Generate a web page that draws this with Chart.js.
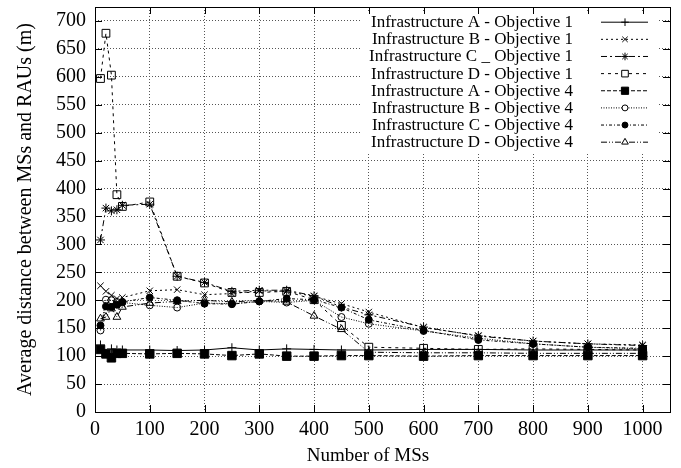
<!DOCTYPE html>
<html>
<head>
<meta charset="utf-8">
<script src="https://cdn.jsdelivr.net/npm/chart.js@4/dist/chart.umd.min.js"></script>
<style>
  html, body { margin: 0; padding: 0; background: #fff; }
</style>
</head>
<body>
<canvas id="chart1" width="681" height="468"></canvas>
<script>
// number of MSs (x values)
const numMSs = [10, 20, 30, 40, 50, 100, 150, 200, 250, 300, 350, 400, 450, 500, 600, 700, 800, 900, 1000];

// average distance (m)
const infraA_obj1 = [120, 105, 113, 111, 111, 111, 110, 111, 115, 111, 113, 112, 111, 111, 112, 112, 111, 111, 111];
const infraB_obj1 = [226, 216, 209, 203, 205, 217, 219, 210, 212, 217, 216, 207, 194, 179, 151, 137, 127, 122, 120];
const infraC_obj1 = [308, 365, 360, 362, 370, 372, 243, 232, 216, 218, 218, 208, 188, 174, 152, 136, 127, 122, 119];
const infraD_obj1 = [597, 678, 603, 389, 368, 376, 243, 231, 214, 214, 216, 201, 155, 116, 114, 112, 113, 112, 111];
const infraA_obj4 = [112, 104, 97, 105, 105, 104, 105, 104, 101, 104, 100, 100, 101, 101, 100, 101, 101, 101, 101];
const infraB_obj4 = [146, 201, 200, 197, 196, 191, 187, 195, 194, 198, 196, 200, 170, 158, 145, 132, 122, 116, 113];
const infraC_obj4 = [155, 189, 188, 192, 197, 205, 200, 194, 193, 198, 203, 201, 187, 165, 146, 129, 122, 116, 114];
const infraD_obj4 = [167, 170, 185, 170, 188, 195, 198, 200, 197, 200, 197, 172, 148, 107, 106, 106, 105, 105, 105];

const xTicks = [0, 100, 200, 300, 400, 500, 600, 700, 800, 900, 1000];
const yTicks = [0, 50, 100, 150, 200, 250, 300, 350, 400, 450, 500, 550, 600, 650, 700];

const labels = [
  "Infrastructure A - Objective 1",
  "Infrastructure B - Objective 1",
  "Infrastructure C _ Objective 1",
  "Infrastructure D - Objective 1",
  "Infrastructure A - Objective 4",
  "Infrastructure B - Objective 4",
  "Infrastructure C - Objective 4",
  "Infrastructure D - Objective 4"
];

const FONT = "'Liberation Serif', 'Times New Roman', serif";
const none = "rgba(0,0,0,0)";

function serie(label, ys, dash, style, radius, fill) {
  return {
    label: label,
    data: ys.map((y, i) => ({ x: numMSs[i], y: y })),
    borderColor: "#000",
    borderWidth: 1,
    borderDash: dash,
    pointStyle: style,
    pointRadius: radius,
    pointBorderColor: "#000",
    pointBorderWidth: 1,
    pointBackgroundColor: fill,
    tension: 0,
    fill: false
  };
}

const datasets = [
  serie(labels[0], infraA_obj1, [], "cross", 4.5, none),
  serie(labels[1], infraB_obj1, [2, 3], "crossRot", 4.5, none),
  serie(labels[2], infraC_obj1, [6, 3, 2, 3], "star", 4.5, none),
  serie(labels[3], infraD_obj1, [3, 4], "rect", 5.5, none),
  serie(labels[4], infraA_obj4, [4, 2], "rect", 6, "#000"),
  serie(labels[5], infraB_obj4, [1, 1.5], "circle", 3.5, none),
  serie(labels[6], infraC_obj4, [3, 2, 1, 2], "circle", 3.5, "#000"),
  serie(labels[7], infraD_obj4, [6, 2, 1, 2, 1, 2], "triangle", 4.5, none)
];

// gnuplot style frame, inside ticks, key box and x label
const gnuplotFrame = {
  id: "gnuplotFrame",
  afterDraw(chart) {
    const ctx = chart.ctx;
    const a = chart.chartArea;
    const xs = chart.scales.x, ys = chart.scales.y;

    // key
    ctx.save();
    ctx.fillStyle = "#fff";
    ctx.fillRect(362, 12, 296, 140);
    ctx.font = "17px " + FONT;
    ctx.fillStyle = "#000";
    ctx.textAlign = "right";
    ctx.textBaseline = "middle";
    chart.data.datasets.forEach((ds, i) => {
      const y = 21.7 + i * 17.14;
      ctx.fillText(ds.label, 573, y + 1);
      ctx.strokeStyle = "#000";
      ctx.lineWidth = 1;
      ctx.setLineDash(ds.borderDash);
      ctx.beginPath();
      ctx.moveTo(601, y + 0.5);
      ctx.lineTo(648, y + 0.5);
      ctx.stroke();
      ctx.setLineDash([]);
      ctx.fillStyle = ds.pointBackgroundColor === none ? "#fff" : "#000";
      if (ds.pointStyle === "cross" || ds.pointStyle === "crossRot" || ds.pointStyle === "star") {
        ctx.fillStyle = none;
      }
      Chart.helpers.drawPoint(ctx, {
        pointStyle: ds.pointStyle,
        radius: ds.pointRadius * 0.85,
        rotation: 0,
        borderWidth: 1
      }, 625, y + 0.5);
      ctx.fillStyle = "#000";
    });

    // x label (gnuplot centres it a bit left of the plot middle)
    ctx.font = "19px " + FONT;
    ctx.textAlign = "center";
    ctx.textBaseline = "alphabetic";
    ctx.fillStyle = "#000";
    ctx.fillText("Number of MSs", 368, 461);

    // frame
    ctx.strokeStyle = "#000";
    ctx.lineWidth = 1;
    ctx.strokeRect(Math.round(a.left) + 0.5, Math.round(a.top) + 0.5,
      Math.round(a.right - a.left), Math.round(a.bottom - a.top));

    // mirrored inside ticks
    const tl = 7;
    ctx.beginPath();
    xTicks.forEach(v => {
      const px = Math.round(xs.getPixelForValue(v)) + 0.5;
      ctx.moveTo(px, a.bottom); ctx.lineTo(px, a.bottom - tl);
      ctx.moveTo(px, a.top); ctx.lineTo(px, a.top + tl);
    });
    yTicks.forEach(v => {
      const py = Math.round(ys.getPixelForValue(v)) + 0.5;
      ctx.moveTo(a.left, py); ctx.lineTo(a.left + tl, py);
      ctx.moveTo(a.right, py); ctx.lineTo(a.right - tl, py);
    });
    ctx.stroke();
    ctx.restore();
  }
};

function renderChart() {
  const ctx = document.querySelector("#chart1").getContext("2d");
  const chart = new Chart(ctx, {
    type: "line",
    data: { datasets: datasets },
    plugins: [gnuplotFrame],
    options: {
      responsive: false,
      animation: false,
      events: [],
      layout: { padding: { left: 0, right: 11, top: 6, bottom: 0 } },
      plugins: {
        legend: { display: false },
        tooltip: { enabled: false }
      },
      scales: {
        x: {
          type: "linear",
          min: 0,
          max: 1050,
          afterBuildTicks: (scale) => { scale.ticks = xTicks.map(v => ({ value: v })); },
          afterFit: (scale) => {
            scale.height = 56;
            scale.paddingLeft = 0;
            scale.paddingRight = 0;
          },
          grid: { color: "#555", lineWidth: 1, drawTicks: false },
          border: { display: false, dash: [1, 2] },
          ticks: {
            color: "#000", padding: 6, maxRotation: 0,
            font: { family: FONT, size: 20 },
            callback: (v) => String(v)
          }
        },
        y: {
          min: 0,
          max: 725,
          afterBuildTicks: (scale) => { scale.ticks = yTicks.map(v => ({ value: v })); },
          afterFit: (scale) => {
            scale.width = 95;
            scale.paddingTop = 0;
            scale.paddingBottom = 0;
          },
          grid: { color: "#555", lineWidth: 1, drawTicks: false },
          border: { display: false, dash: [1, 2] },
          ticks: {
            color: "#000", padding: 9,
            font: { family: FONT, size: 20 },
            callback: (v) => String(v)
          },
          title: {
            display: true,
            text: "Average distance between MSs and RAUs (m)",
            color: "#000",
            padding: { top: 14, bottom: 0 },
            font: { family: FONT, size: 20 }
          }
        }
      }
    }
  });
}
renderChart();
</script>
</body>
</html>
